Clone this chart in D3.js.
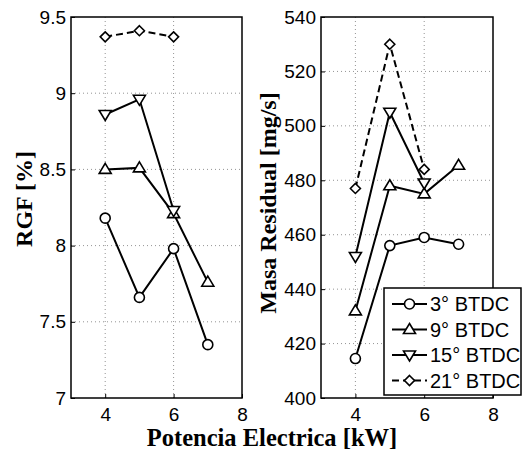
<!DOCTYPE html>
<html>
<head>
<meta charset="utf-8">
<script src="https://cdn.jsdelivr.net/npm/d3@7"></script>
<style>
  body { margin: 0; background: #fff; }
  svg { display: block; }
  .tick text { font-family: "Liberation Sans", Arial, sans-serif; font-size: 19px; fill: #000; }
</style>
</head>
<body>
<svg></svg>
<script>
let potencia = [4, 5, 6, 7];
let seriesNames = ['3° BTDC', '9° BTDC', '15° BTDC', '21° BTDC'];
let markers = ['circle', 'up', 'down', 'diamond'];

let rgf3 = [8.18, 7.66, 7.98, 7.35];
let rgf9 = [8.50, 8.51, 8.21, 7.76];
let rgf15 = [8.86, 8.96, 8.23];
let rgf21 = [9.37, 9.41, 9.37];

let masa3 = [414.5, 456, 459, 456.5];
let masa9 = [432, 478, 475, 485.5];
let masa15 = [452, 505, 479];
let masa21 = [477, 530, 484];

let xTicks = [4, 6, 8];
let rgfTicks = [7, 7.5, 8, 8.5, 9, 9.5];
let masaTicks = [400, 420, 440, 460, 480, 500, 520, 540];

let width = 523;
let height = 450;

let svg = d3.select('svg').attr('width', width).attr('height', height);

let markerPath = (type, x, y) => {
  let s = 5;
  if (type === 'up') return `M${x},${y - s - 1}L${x + s + 1},${y + s - 1}L${x - s - 1},${y + s - 1}Z`;
  if (type === 'down') return `M${x},${y + s + 1}L${x + s + 1},${y - s + 1}L${x - s - 1},${y - s + 1}Z`;
  if (type === 'diamond') return `M${x},${y - s}L${x + s},${y}L${x},${y + s}L${x - s},${y}Z`;
  return null;
};

let drawMarker = (g, type, x, y) => {
  if (type === 'circle') {
    g.append('circle').attr('cx', x).attr('cy', y).attr('r', 5)
      .attr('fill', '#fff').attr('stroke', '#000').attr('stroke-width', 1.6);
  } else {
    g.append('path').attr('d', markerPath(type, x, y))
      .attr('fill', '#fff').attr('stroke', '#000').attr('stroke-width', 1.6);
  }
};

let drawPanel = (x0, x1, y0, y1, yDomain, yTicks, seriesData, fmt) => {
  let xScale = d3.scaleLinear().domain([3, 8]).range([x0, x1]);
  let yScale = d3.scaleLinear().domain(yDomain).range([y1, y0]);
  let g = svg.append('g');

  // grid
  g.selectAll('.gy').data(yTicks.slice(1, -1)).enter().append('line')
    .attr('x1', x0).attr('x2', x1)
    .attr('y1', d => yScale(d)).attr('y2', d => yScale(d))
    .attr('stroke', '#777').attr('stroke-width', 0.8).attr('stroke-dasharray', '1,3');
  g.selectAll('.gx').data(xTicks.slice(0, -1)).enter().append('line')
    .attr('x1', d => xScale(d)).attr('x2', d => xScale(d))
    .attr('y1', y0).attr('y2', y1)
    .attr('stroke', '#777').attr('stroke-width', 0.8).attr('stroke-dasharray', '1,3');

  // axes
  let yAxis = d3.axisLeft(yScale).tickValues(yTicks).tickFormat(fmt).tickSize(-4).tickPadding(5);
  let ya = g.append('g').attr('transform', `translate(${x0},0)`).call(yAxis);
  let xAxis = d3.axisBottom(xScale).tickValues(xTicks).tickFormat(d3.format('d')).tickSize(-4).tickPadding(10);
  let xa = g.append('g').attr('transform', `translate(0,${y1})`).call(xAxis);
  [ya, xa].forEach(a => {
    a.select('.domain').remove();
    a.selectAll('.tick line').attr('stroke', '#000');
  });

  // frame
  g.append('rect').attr('x', x0).attr('y', y0).attr('width', x1 - x0).attr('height', y1 - y0)
    .attr('fill', 'none').attr('stroke', '#000').attr('stroke-width', 1.5);

  // lines
  let line = d3.line().x((d, i) => xScale(potencia[i])).y(d => yScale(d));
  seriesData.forEach((vals, k) => {
    g.append('path').datum(vals).attr('d', line)
      .attr('fill', 'none').attr('stroke', '#000').attr('stroke-width', 2)
      .attr('stroke-dasharray', k === 3 ? '7,4' : null);
  });
  seriesData.forEach((vals, k) => {
    vals.forEach((v, i) => drawMarker(g, markers[k], xScale(potencia[i]), yScale(v)));
  });
};

drawPanel(71, 242, 17, 398, [7, 9.5], rgfTicks, [rgf3, rgf9, rgf15, rgf21], d3.format('~g'));
drawPanel(321, 493, 17, 398, [400, 540], masaTicks, [masa3, masa9, masa15, masa21], d3.format('d'));

// axis titles
let serif = '"Liberation Serif", "Times New Roman", serif';
svg.append('text').attr('transform', 'translate(32,199) rotate(-90)')
  .attr('text-anchor', 'middle')
  .style('font-family', serif)
  .style('font-weight', 'bold').style('font-size', '24px').text('RGF [%]');
svg.append('text').attr('transform', 'translate(276,203) rotate(-90)')
  .attr('text-anchor', 'middle')
  .style('font-family', serif)
  .style('font-weight', 'bold').style('font-size', '24px').text('Masa Residual [mg/s]');
svg.append('text').attr('x', 272).attr('y', 446)
  .attr('text-anchor', 'middle')
  .style('font-family', serif)
  .style('font-weight', 'bold').style('font-size', '24.5px').text('Potencia Electrica [kW]');

// legend
let lg = svg.append('g');
lg.append('rect').attr('x', 384).attr('y', 288).attr('width', 137).attr('height', 107)
  .attr('fill', '#fff').attr('stroke', '#000').attr('stroke-width', 1.5);
seriesNames.forEach((name, k) => {
  let y = 304 + k * 25.5;
  lg.append('line').attr('x1', 392).attr('x2', 427).attr('y1', y).attr('y2', y)
    .attr('stroke', '#000').attr('stroke-width', 2)
    .attr('stroke-dasharray', k === 3 ? '7,4' : null);
  drawMarker(lg, markers[k], 409.5, y);
  lg.append('text').attr('x', 430).attr('y', y + 7)
    .style('font-family', '"Liberation Sans", Arial, sans-serif').style('font-size', '20px')
    .text(name);
});
</script>
</body>
</html>
